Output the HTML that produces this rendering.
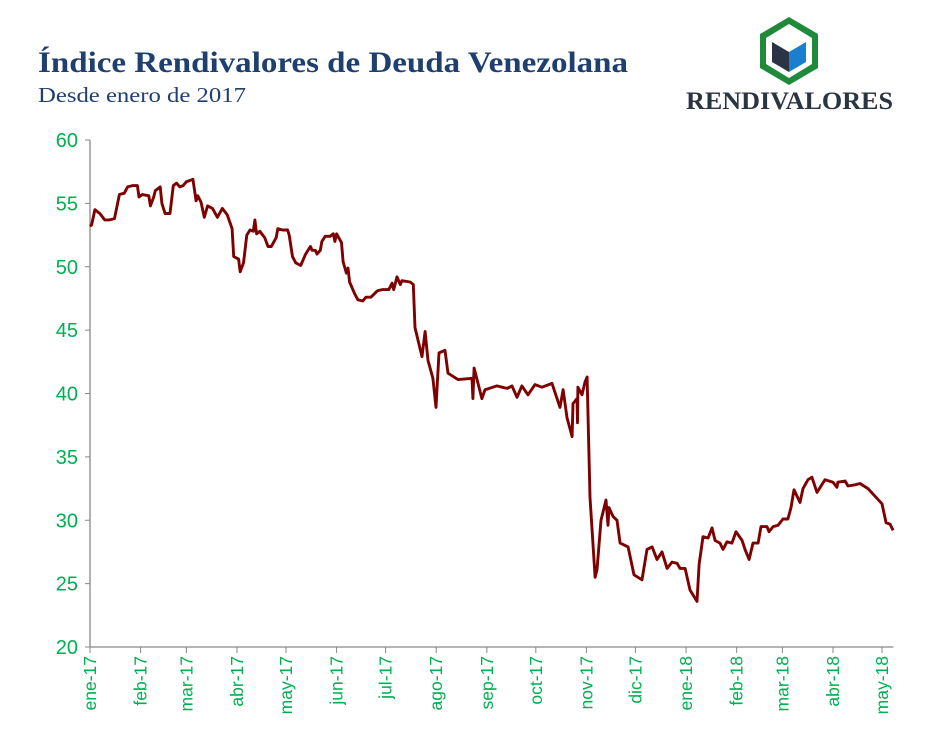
<!DOCTYPE html>
<html><head><meta charset="utf-8"><style>
body{margin:0;background:#fff;width:928px;height:748px;overflow:hidden;font-family:"Liberation Serif",serif}
svg{position:absolute;left:0;top:0}
</style></head><body>
<svg width="928" height="748">
<text x="38" y="72" font-family="Liberation Serif" font-weight="bold" font-size="30" fill="#1f3f6e" textLength="590" lengthAdjust="spacingAndGlyphs">Índice Rendivalores de Deuda Venezolana</text>
<text x="38" y="102" font-family="Liberation Serif" font-size="21" fill="#1f3f6e" textLength="208" lengthAdjust="spacingAndGlyphs">Desde enero de 2017</text>
<g>
<polygon points="789,17 818,34 818,68 789,85 760,68 760,34" fill="#1e8a3a"/>
<polygon points="789,24 812,38 812,64 789,78 766,64 766,38" fill="#fff"/>
<polygon points="789,31 806,41 789,51 772,41" fill="#fff"/>
<polygon points="772,42 789,52 789,72 772,62" fill="#2b3445"/>
<polygon points="806,42 789,52 789,72 806,62" fill="#1a7fd0"/>
<text x="686" y="109" font-family="Liberation Serif" font-weight="bold" font-size="25" fill="#2a3442" textLength="207" lengthAdjust="spacingAndGlyphs">RENDIVALORES</text>
</g>
<g id="axes"></g>
<g id="plot"></g>
</svg>
<script>
const yTicks=[20,25,30,35,40,45,50,55,60];
const monthLabels=["ene-17","feb-17","mar-17","abr-17","may-17","jun-17","jul-17","ago-17","sep-17","oct-17","nov-17","dic-17","ene-18","feb-18","mar-18","abr-18","may-18"];
const monthDays=[0,31,59,90,120,151,181,212,243,273,304,334,365,396,424,455,485];
const days=[0,1,3,6,9,12,15,18,21,23,26,29,30,32,36,37,39,40,43,44,46,49,51,53,55,57,59,61,63,65,66,68,70,72,75,78,81,84,86,87,88,91,92,94,96,98,100,101,102,104,107,109,111,114,115,118,121,122,124,126,129,132,134,135,136,138,139,141,142,144,147,149,150,151,154,155,157,158,159,162,164,167,169,172,176,179,183,185,186,188,190,191,196,198,199,203.3,205.2,207,210,211.9,213.7,217.4,219.2,225.4,233.9,234.5,235.2,240,241.9,249.2,252.3,255.4,258.4,261.5,264.5,268.2,272.5,276.8,282.9,287.8,289.7,292.1,295.2,295.8,298.2,298.5,298.8,301.3,303.1,304.4,306.2,309.3,310.5,312.9,316,317.2,317.8,320.3,322.7,324.6,329.5,333.1,338,341.1,344.2,347.2,350.3,353.4,356.4,359.5,361.3,364.4,367.4,371.7,373,375.4,378.5,380.9,382.8,385.8,387.6,390.1,393.1,395.6,399.3,401.1,403.6,406,409.1,410.9,414.6,415.8,418.3,421.3,424.4,427.4,429.3,431.1,434.8,436.6,439.7,442.1,445.2,450.1,455,457.4,458,462.4,464.2,468.5,471.5,476.4,480.7,485,487.5,489.9,491.8];
const values=[53.2,53.3,54.5,54.2,53.7,53.7,53.8,55.7,55.8,56.3,56.4,56.4,55.5,55.7,55.6,54.8,55.5,56.0,56.3,55.0,54.2,54.2,56.4,56.6,56.3,56.4,56.7,56.8,56.9,55.2,55.6,55.1,53.9,54.8,54.6,53.9,54.6,54.1,53.4,53.0,50.8,50.6,49.6,50.3,52.5,52.9,52.8,53.7,52.6,52.8,52.3,51.6,51.6,52.3,53.0,52.9,52.9,52.5,50.8,50.3,50.1,51.0,51.4,51.6,51.3,51.3,51.0,51.3,52.0,52.4,52.4,52.6,52.0,52.6,51.9,50.4,49.5,49.9,48.8,47.9,47.4,47.3,47.6,47.6,48.1,48.2,48.2,48.7,48.2,49.2,48.6,48.9,48.8,48.6,45.2,42.9,44.9,42.6,41.2,38.9,43.2,43.4,41.6,41.1,41.2,39.6,42.0,39.6,40.3,40.6,40.5,40.4,40.6,39.7,40.6,39.9,40.7,40.5,40.8,38.9,40.3,38.1,36.6,39.2,39.6,37.7,40.5,39.9,40.9,41.3,31.8,25.5,26.1,30.0,31.6,29.6,31.0,30.3,30.0,28.2,27.9,25.7,25.3,27.7,27.9,26.9,27.5,26.2,26.7,26.6,26.2,26.2,24.5,23.6,26.5,28.7,28.6,29.4,28.4,28.2,27.7,28.3,28.2,29.1,28.4,27.7,26.9,28.2,28.2,29.5,29.5,29.1,29.5,29.6,30.1,30.1,31.0,32.4,31.4,32.5,33.2,33.4,32.2,33.2,33.0,32.6,33.0,33.1,32.7,32.8,32.9,32.5,31.9,31.3,29.8,29.7,29.2];
const X0=90,PX=1.633,Y0=647,PY=12.675;
const xs=d=>X0+d*PX, ys=v=>Y0-(v-20)*PY;
const NS="http://www.w3.org/2000/svg";
const axes=document.getElementById('axes'),plot=document.getElementById('plot');
function mk(tag,attrs,parent){const e=document.createElementNS(NS,tag);for(const k in attrs)e.setAttribute(k,attrs[k]);parent.appendChild(e);return e;}
let yl=mk('line',{x1:X0,y1:ys(60),x2:X0,y2:Y0,stroke:'#888','stroke-width':1.3},axes);


let xl=mk('line',{x1:X0,y1:Y0,x2:xs(492),y2:Y0,stroke:'#888','stroke-width':1.3},axes);


yTicks.forEach(v=>{
 mk('line',{x1:X0-5,y1:ys(v),x2:X0,y2:ys(v),stroke:'#888'},axes);
 const t=mk('text',{x:X0-12,y:ys(v)+7,'text-anchor':'end','font-family':'Liberation Sans','font-size':20,fill:'#00b050'},axes);
 t.textContent=v;
 
 
});
monthDays.forEach((d,i)=>{
 const x=xs(d);
 mk('line',{x1:x,y1:Y0,x2:x,y2:Y0+6,stroke:'#888'},axes);
 const t=mk('text',{x:0,y:0,'text-anchor':'end','font-family':'Liberation Sans','font-size':17.5,fill:'#00b050',transform:`translate(${x+6},${Y0+9}) rotate(-90)`},axes);
 t.textContent=monthLabels[i];
 
 
});
const p=mk('polyline',{points:days.map((d,i)=>xs(d).toFixed(1)+','+ys(values[i]).toFixed(1)).join(' '),fill:'none',stroke:'#7f0000','stroke-width':2.9,'stroke-linejoin':'round'},plot);


</script>
</body></html>
